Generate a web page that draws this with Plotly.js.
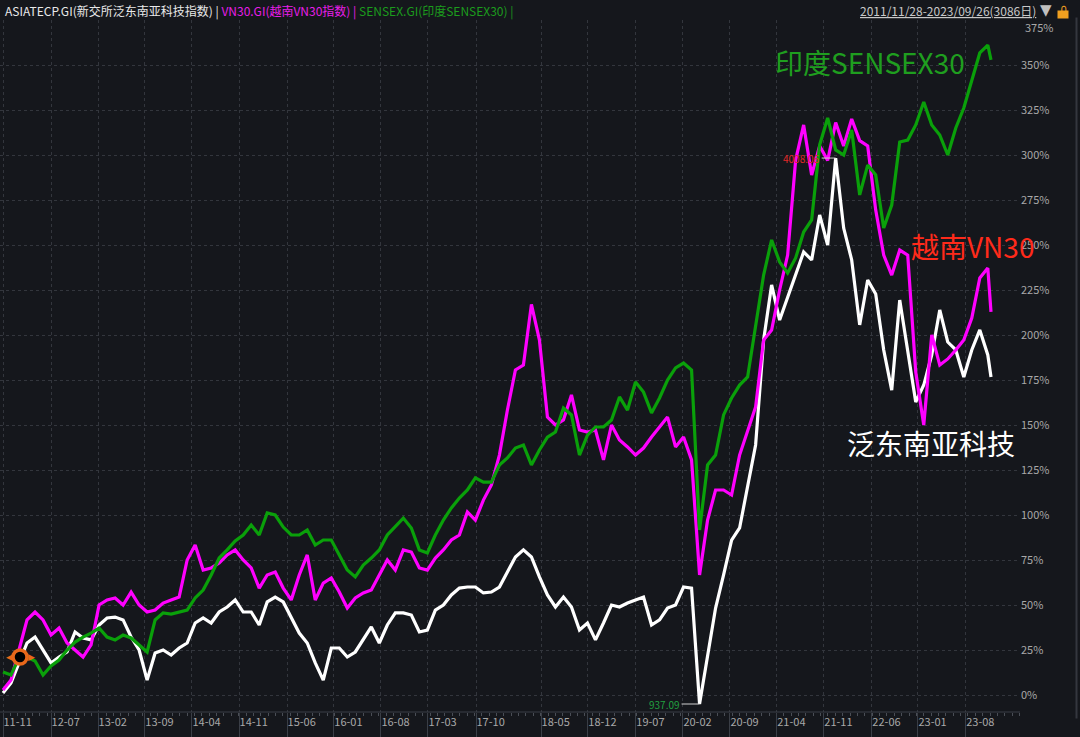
<!DOCTYPE html>
<html>
<head>
<meta charset="utf-8">
<script src="https://cdn.plot.ly/plotly-3.0.1.min.js"></script>
<style>html,body{margin:0;padding:0;background:#15171c;}#chart{width:1080px;height:737px;}</style>
</head>
<body>
<div id="chart"></div>
<script>
// ===== DATA (cumulative % change, sampled every ~25 trading days) =====
const seriesNames = ['ASIATECP.GI(新交所泛东南亚科技指数)', 'VN30.GI(越南VN30指数)', 'SENSEX.GI(印度SENSEX30)'];
const asiatecp = [1.1,6.7,17.8,28.9,32.2,25.0,17.8,21.1,23.9,35.0,31.7,30.6,38.9,42.8,43.3,41.7,32.2,25.0,8.3,23.3,
  25.0,22.2,26.1,28.9,40.0,42.8,40.0,46.1,48.9,52.8,46.1,46.1,38.9,51.7,54.4,51.7,43.3,34.4,28.9,17.8,
  8.3,26.1,26.1,21.1,23.9,30.6,37.8,28.9,38.9,45.6,45.6,44.4,35.0,36.1,47.2,50.0,55.6,59.4,60.0,60.0,
  56.7,57.2,60.0,68.3,76.7,80.6,76.7,65.6,55.6,48.9,54.4,48.9,36.1,40.0,30.6,40.0,50.0,48.9,51.1,52.8,
  54.4,38.9,41.7,48.3,50.0,60.0,59.4,-5.0,21.7,48.3,66.7,86.1,92.8,116.7,138.9,197.2,227.8,208.3,220.6,233.3,
  246.1,241.7,266.7,250.0,298.3,259.4,241.7,205.6,230.6,222.8,191.7,169.4,219.4,191.1,162.8,172.2,188.9,213.9,196.1,191.7,
  176.7,191.7,202.8,188.9,176.7];
const vn30 = [2.8,8.3,25.0,41.7,46.1,41.7,33.3,37.2,28.9,25.0,21.1,27.8,50.0,52.8,53.9,50.0,57.2,50.0,46.1,47.2,
  51.1,52.8,54.4,75.0,83.3,69.4,70.6,73.3,77.8,80.6,75.0,70.6,59.4,66.7,68.3,59.4,52.8,66.7,77.8,52.8,
  62.2,65.0,57.2,48.3,53.9,56.7,58.3,66.7,75.0,69.4,80.6,79.4,70.6,69.4,76.1,80.6,86.1,88.9,101.7,97.2,
  108.3,116.7,133.3,158.3,180.6,183.3,217.0,197.2,154.4,150.0,152.8,166.7,147.2,146.1,147.2,130.6,150.0,141.7,137.8,133.3,
  137.2,143.3,148.9,154.4,137.8,143.3,130.6,66.7,97.2,113.9,113.9,111.1,133.3,147.2,160.0,197.2,202.8,225.0,244.4,297.2,
  316.7,288.9,305.0,297.0,318.0,305.0,320.0,308.0,305.0,269.4,244.4,233.3,247.2,244.4,179.4,150.0,200.0,183.3,186.7,191.7,
  197.2,209.4,231.7,237.2,212.8];
const sensex = [12.8,11.1,20.6,21.1,18.9,11.1,16.1,19.4,25.0,29.4,32.2,34.4,37.2,32.2,30.6,33.3,31.7,27.8,23.9,41.7,
  45.6,45.0,46.1,47.2,53.9,58.3,66.7,76.1,80.6,85.6,88.9,94.4,88.9,101.1,100.0,93.3,88.9,88.9,91.7,83.3,
  86.1,86.1,77.8,69.4,65.6,72.2,76.1,80.6,88.9,93.3,98.3,92.8,80.6,78.9,88.9,97.2,103.9,109.4,113.9,120.6,
  118.3,118.3,127.8,131.7,137.2,138.9,127.8,136.1,143.3,146.1,159.4,155.6,133.3,144.4,148.9,148.9,152.8,165.6,158.3,173.9,
  168.3,156.7,165.0,175.0,181.7,184.4,180.6,91.7,127.8,133.3,155.6,165.0,172.2,176.7,205.6,233.3,252.8,240.6,234.4,242.8,
  257.2,263.9,305.6,320.6,302.8,300.0,313.9,277.8,294.4,288.9,259.4,272.2,307.2,308.3,316.7,329.4,316.7,311.1,300.0,315.0,
  326.1,341.7,356.7,361.1,352.8];
const tickLabels = ['11-11','12-07','13-02','13-09','14-04','14-11','15-06','16-01','16-08','17-03','17-10',
  '18-05','18-12','19-07','20-02','20-09','21-04','21-11','22-06','23-01','23-08'];
const tickDays = [0,150,297,443,590,737,887,1033,1180,1327,1477,1680,1826,1976,2123,2270,2416,2563,2713,2857,3006];
const yTicks = [0,25,50,75,100,125,150,175,200,225,250,275,300,325,350,375];
const totalDays = 3086;
const sampleStep = 25;
const maxLabel = '4008.06', minLabel = '937.09';
const rangeLabel = '2011/11/28-2023/09/26(3086日)';

// ===== LAYOUT HELPERS =====
const W = 1080, H = 737, ML = 0, MR = 60, MT = 20, MB = 25;
const PW = W - ML - MR, PH = H - MT - MB;
const px2x = px => (px - ML) / PW;
const py2y = py => (H - MB - py) / PH;
const pxPerDay = 988 / 3085;
const days = asiatecp.map((_, i) => Math.min(i * sampleStep, totalDays - 1));

const FONT = 'Noto Sans CJK SC, Noto Sans, sans-serif';
const colors = ['#ffffff', '#ff00ff', '#0aa00a'];

const traces = [asiatecp, vn30, sensex].map((v, i) => ({
  x: days, y: v, type: 'scatter', mode: 'lines', name: seriesNames[i],
  line: {color: colors[i], width: 3.2}, hoverinfo: 'skip'
}));

const maxI = asiatecp.indexOf(Math.max(...asiatecp));
const minI = asiatecp.indexOf(Math.min(...asiatecp));

const legendHtml = '<span style="color:#e8e8e8">' + seriesNames[0] + ' | </span>' +
  '<span style="color:#e81ee8">' + seriesNames[1] + ' | </span>' +
  '<span style="color:#1c9c1c">' + seriesNames[2] + ' | </span>';

const topLabel = yTicks[yTicks.length - 1];
const annotations = [
  {xref:'paper', yref:'paper', x:px2x(3), y:py2y(11), xanchor:'left', yanchor:'middle', showarrow:false,
   text: legendHtml, font:{family:FONT, size:12}},
  {xref:'paper', yref:'paper', x:px2x(1038), y:py2y(11), xanchor:'right', yanchor:'middle', showarrow:false,
   text:'<u>' + rangeLabel + '</u>', font:{family:FONT, size:12, color:'#c8c8c8'}},
  {xref:'paper', yref:'paper', x:px2x(1046), y:py2y(10), xanchor:'center', yanchor:'middle', showarrow:false,
   text:'▼', font:{family:'DejaVu Sans', size:15, color:'#c0c0c0'}},
  // padlock icon
  {xref:'paper', yref:'paper', x:px2x(1063), y:py2y(14), xanchor:'center', yanchor:'middle', showarrow:false,
   text:' ', width:10, height:7, bgcolor:'#f0a020', borderpad:0, font:{size:1}},
  {xref:'paper', yref:'paper', x:px2x(1064), y:py2y(8), xanchor:'center', yanchor:'middle', showarrow:false,
   text:'∩', font:{family:'DejaVu Sans', size:11, color:'#f0a020'}},
  // right frame line of the value column
  {xref:'paper', yref:'paper', x:px2x(1076), y:py2y(368), xanchor:'center', yanchor:'middle', showarrow:false,
   text:' ', width:1, height:700, bgcolor:'#34373e', borderpad:0, font:{size:1}},
  // top y tick label, nudged below the header strip as in the reference
  {xref:'paper', yref:'paper', x:px2x(1023), y:py2y(27), xanchor:'left', yanchor:'middle', showarrow:false,
   text: topLabel + '%', font:{family:FONT, size:11, color:'#a8a8a8'}},
  {xref:'paper', yref:'paper', x:px2x(870), y:py2y(62), xanchor:'center', yanchor:'middle', showarrow:false,
   text:'印度SENSEX30', font:{family:FONT, size:28, color:'#1f9e1f'}},
  {xref:'paper', yref:'paper', x:px2x(972), y:py2y(246), xanchor:'center', yanchor:'middle', showarrow:false,
   text:'越南VN30', font:{family:FONT, size:28, color:'#ff2a1a'}},
  {xref:'paper', yref:'paper', x:px2x(931), y:py2y(443), xanchor:'center', yanchor:'middle', showarrow:false,
   text:'泛东南亚科技', font:{family:FONT, size:28, color:'#ffffff'}},
  {xref:'x', yref:'y', x:days[maxI], y:asiatecp[maxI], ax:-14, ay:0, axref:'pixel', ayref:'pixel',
   showarrow:true, arrowhead:0, arrowwidth:1, arrowcolor:'#d0d0d0', standoff:0,
   text:maxLabel, xanchor:'right', font:{family:FONT, size:10, color:'#e02828'}},
  {xref:'x', yref:'y', x:days[minI], y:asiatecp[minI], ax:-18, ay:0, axref:'pixel', ayref:'pixel',
   showarrow:true, arrowhead:0, arrowwidth:1, arrowcolor:'#d0d0d0', standoff:0,
   text:minLabel, xanchor:'right', font:{family:FONT, size:10, color:'#22a040'}},
  {xref:'paper', yref:'paper', x:px2x(9), y:py2y(657), xanchor:'center', yanchor:'middle', showarrow:false,
   text:'◀', font:{family:'DejaVu Sans', size:9, color:'#e8671a'}},
  {xref:'paper', yref:'paper', x:px2x(31), y:py2y(657), xanchor:'center', yanchor:'middle', showarrow:false,
   text:'▶', font:{family:'DejaVu Sans', size:9, color:'#e8671a'}}
];

const shapes = [
  {type:'circle', xref:'paper', yref:'paper', x0:px2x(13), x1:px2x(27), y0:py2y(664), y1:py2y(650),
   fillcolor:'#000000', line:{color:'#e8671a', width:3.5}},
  {type:'line', xref:'paper', yref:'paper', x0:0, x1:1, y0:0, y1:0,
   line:{color:'#3a3e46', width:1}}
];

const layout = {
  width: W, height: H,
  margin: {l: ML, r: MR, t: MT, b: MB, pad: 0},
  paper_bgcolor: '#15171c', plot_bgcolor: '#15171c',
  showlegend: false,
  font: {family: FONT, color: '#a8a8a8'},
  xaxis: {
    type: 'linear', range: [-3 / pxPerDay, (PW - 3) / pxPerDay],
    tickmode: 'array', tickvals: tickDays, ticktext: tickLabels,
    ticklabelposition: 'outside right',
    ticks: 'outside', ticklen: 25, tickcolor: '#3a3e46', tickwidth: 1,
    minor: {ticks: 'outside', ticklen: 3, dtick: 23, tick0: 0, tickcolor: '#4a4e56', showgrid: false},
    showgrid: true, gridcolor: '#33363d', griddash: 'dot', gridwidth: 1,
    zeroline: false, showline: false,
    tickfont: {family: FONT, size: 11, color: '#a8a8a8'},
    fixedrange: true
  },
  yaxis: {
    side: 'right', range: [-(712 - 695) / 1.8, 375],
    tickmode: 'array', tickvals: yTicks,
    ticktext: yTicks.map(v => v === topLabel ? '' : v + '%'),
    ticks: '', showgrid: true, gridcolor: '#33363d', griddash: 'dot', gridwidth: 1,
    zeroline: false, showline: false,
    tickfont: {family: FONT, size: 11, color: '#a8a8a8'},
    fixedrange: true
  },
  annotations: annotations,
  shapes: shapes
};

Plotly.newPlot('chart', traces, layout, {displayModeBar: false, staticPlot: true});
</script>
</body>
</html>
